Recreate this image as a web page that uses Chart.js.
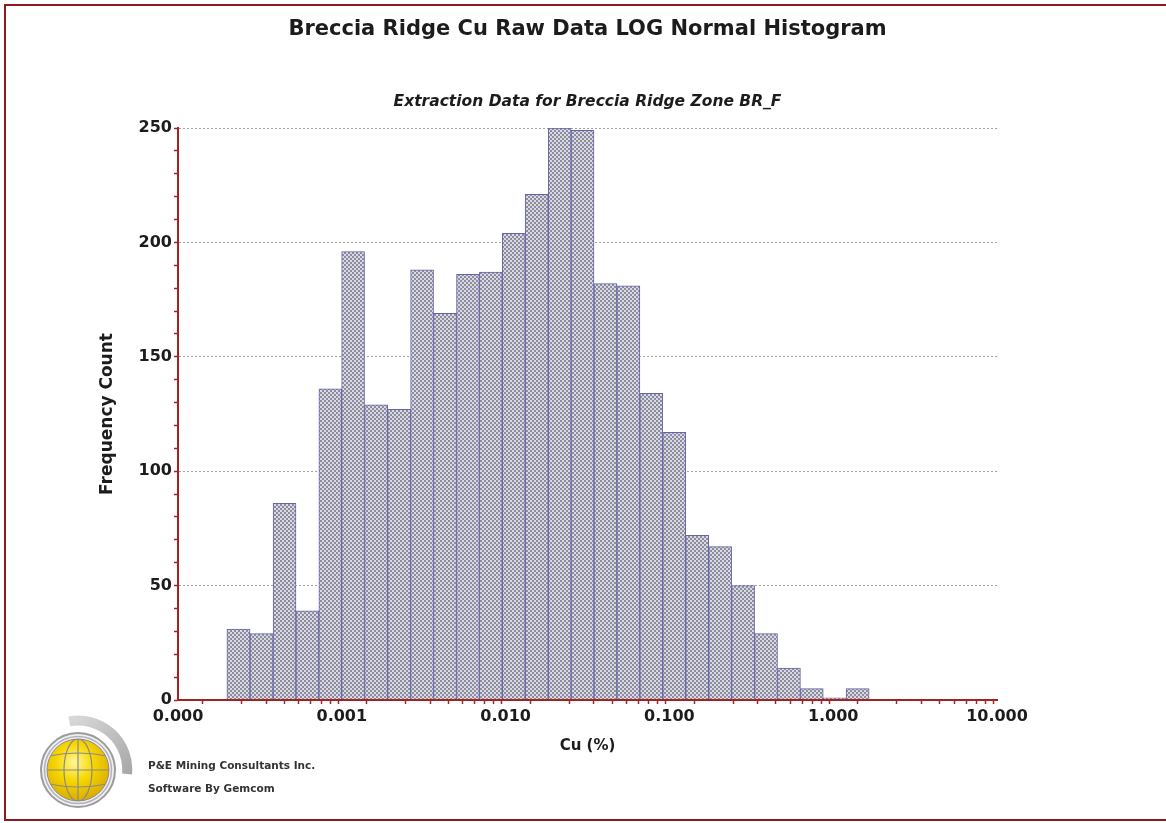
<!DOCTYPE html>
<html>
<head>
<meta charset="utf-8">
<title>Breccia Ridge Cu Raw Data LOG Normal Histogram</title>
<script src="https://cdn.jsdelivr.net/npm/chart.js@4.4.1/dist/chart.umd.min.js"></script>
<style>
    body { margin: 0; background: #fff; }
    #page { position: relative; width: 1166px; height: 823px; overflow: hidden; background: #fff; font-family: "DejaVu Sans", sans-serif; }
    #frame { position: absolute; left: 4px; top: 4px; width: 1180px; height: 817px; border: 2px solid #8e1b1b; border-right: none; box-sizing: border-box; pointer-events: none; }
    #chart { position: absolute; left: 0; top: 0; }
    #logo { position: absolute; left: 36px; top: 712px; }
    .credit { position: absolute; left: 148px; font-weight: bold; font-size: 10.5px; color: #333; white-space: nowrap; }
</style>
</head>
<body>
<div id="page">
    <canvas id="chart" width="1166" height="823"></canvas>
    <div id="frame"></div>

    <!-- company globe mark -->
    <svg id="logo" width="100" height="100" viewBox="0 0 100 100">
        <defs>
            <radialGradient id="globeFill" cx="0.45" cy="0.38" r="0.65">
                <stop offset="0" stop-color="#fff7a0"/>
                <stop offset="0.45" stop-color="#f7d800"/>
                <stop offset="1" stop-color="#d9a900"/>
            </radialGradient>
            <linearGradient id="arcFill" x1="0" y1="0" x2="1" y2="1">
                <stop offset="0" stop-color="#d8d8d8"/>
                <stop offset="1" stop-color="#a8a8a8"/>
            </linearGradient>
            <clipPath id="globeClip"><circle cx="42" cy="58" r="31"/></clipPath>
        </defs>
        <path d="M 33.3 9.3 A 49 49 0 0 1 91 62" fill="none" stroke="url(#arcFill)" stroke-width="10"/>
        <circle cx="42" cy="58" r="37" fill="#f0f0f0" stroke="#9c9c9c" stroke-width="2"/>
        <circle cx="42" cy="58" r="33.5" fill="none" stroke="#b0b0c4" stroke-width="1.5"/>
        <circle cx="42" cy="58" r="31" fill="url(#globeFill)" stroke="#8c8c8c" stroke-width="1"/>
        <g clip-path="url(#globeClip)" fill="none" stroke="#8a8a8a" stroke-width="1.2">
            <line x1="42" y1="25" x2="42" y2="91"/>
            <ellipse cx="42" cy="58" rx="14" ry="31"/>
            <line x1="10" y1="58" x2="74" y2="58"/>
            <path d="M 13 44 Q 42 38 71 44"/>
            <path d="M 13 72 Q 42 78 71 72"/>
        </g>
    </svg>
    <div class="credit" style="top: 759px;">P&amp;E Mining Consultants Inc.</div>
    <div class="credit" style="top: 782px;">Software By Gemcom</div>
</div>

<script>
const chartTitle = 'Breccia Ridge Cu Raw Data LOG Normal Histogram';
const chartSubtitle = 'Extraction Data for Breccia Ridge Zone BR_F';
const xAxisTitle = 'Cu (%)';
const yAxisTitle = 'Frequency Count';

// log-spaced Cu (%) bins: centre of each bin and its sample count
const binCenters = [
    0.000234, 0.000324, 0.000447, 0.000617, 0.000851,
    0.00117, 0.00162, 0.00224, 0.00309, 0.00427, 0.00589, 0.00813,
    0.0112, 0.0155, 0.0214, 0.0295, 0.0407, 0.0562, 0.0776,
    0.107, 0.148, 0.204, 0.282, 0.389, 0.537, 0.741,
    1.02, 1.41
];
const counts = [
    31, 29, 86, 39, 136,
    196, 129, 127, 188, 169, 186, 187,
    204, 221, 250, 249, 182, 181, 134,
    117, 72, 67, 50, 29, 14, 5,
    1, 5
];

// decade ticks on the Cu axis and their printed labels
const xDecades = [0.0001, 0.001, 0.01, 0.1, 1, 10];
const xTickLabels = ['0.000', '0.001', '0.010', '0.100', '1.000', '10.000'];
const yTickLabels = [0, 50, 100, 150, 200, 250];

const axisRed = '#a52222';
const inkColor = '#1c1c1c';

// fine checker fill used by the histogram bars
function checkerPattern() {
    const tile = document.createElement('canvas');
    tile.width = 4;
    tile.height = 4;
    const t = tile.getContext('2d');
    t.fillStyle = '#dadae2';
    t.fillRect(0, 0, 4, 4);
    t.fillStyle = '#8c8c9e';
    t.fillRect(0, 0, 2, 2);
    t.fillRect(2, 2, 2, 2);
    return document.getElementById('chart').getContext('2d').createPattern(tile, 'repeat');
}

const headerText = {
    id: 'headerText',
    afterDraw(chart) {
        const { ctx, chartArea } = chart;
        const cx = (chartArea.left + chartArea.right) / 2;
        ctx.save();
        ctx.fillStyle = inkColor;
        ctx.textAlign = 'center';
        ctx.textBaseline = 'middle';
        ctx.font = 'bold 21px "DejaVu Sans"';
        ctx.fillText(chartTitle, cx, 30);
        ctx.font = 'italic bold 15.5px "DejaVu Sans"';
        ctx.fillText(chartSubtitle, cx, 102);
        ctx.restore();
    }
};

const tickFont = { family: 'DejaVu Sans', size: 16, weight: 'bold' };

new Chart(document.getElementById('chart'), {
    type: 'bar',
    data: {
        datasets: [{
            label: 'Frequency',
            data: binCenters.map((x, i) => ({ x: x, y: counts[i] })),
            backgroundColor: checkerPattern(),
            borderColor: '#6464aa',
            borderWidth: 1,
            barThickness: 'flex',
            barPercentage: 1,
            categoryPercentage: 1
        }]
    },
    options: {
        responsive: false,
        animation: false,
        layout: { padding: { left: 0, top: 128, right: 169, bottom: 0 } },
        plugins: {
            legend: { display: false },
            tooltip: { enabled: false }
        },
        scales: {
            x: {
                type: 'logarithmic',
                min: xDecades[0],
                max: xDecades[xDecades.length - 1],
                afterFit: s => { s.height = 123; },
                afterBuildTicks: s => {
                    const ticks = [];
                    xDecades.forEach((d, i) => {
                        if (i === xDecades.length - 1) {
                            ticks.push({ value: d });
                        } else {
                            for (let k = 1; k <= 9; k++) ticks.push({ value: k * d });
                        }
                    });
                    s.ticks = ticks;
                },
                grid: {
                    drawOnChartArea: false,
                    drawTicks: true,
                    tickLength: 4,
                    tickColor: axisRed,
                    tickWidth: 1.5
                },
                border: { display: true, color: axisRed, width: 2, z: 1 },
                ticks: {
                    autoSkip: false,
                    maxRotation: 0,
                    padding: 3,
                    color: inkColor,
                    font: tickFont,
                    callback: v => {
                        const i = xDecades.indexOf(v);
                        return i >= 0 ? xTickLabels[i] : '';
                    }
                },
                title: {
                    display: true,
                    text: xAxisTitle,
                    color: inkColor,
                    font: { family: 'DejaVu Sans', size: 15, weight: 'bold' },
                    padding: { top: 0, bottom: 68 }
                }
            },
            y: {
                min: 0,
                max: 250,
                afterFit: s => { s.width = 178; },
                grid: {
                    color: c => (c.tick && c.tick.value > 0 && yTickLabels.includes(c.tick.value)) ? '#a2a2a2' : 'rgba(0,0,0,0)',
                    lineWidth: 1,
                    drawTicks: true,
                    tickLength: 4,
                    tickColor: axisRed,
                    tickWidth: 1.5
                },
                border: { display: true, color: axisRed, width: 2, dash: [2, 2], z: 1 },
                ticks: {
                    stepSize: 10,
                    autoSkip: false,
                    padding: 2,
                    color: inkColor,
                    font: tickFont,
                    callback: v => yTickLabels.includes(v) ? String(v) : ''
                },
                title: {
                    display: true,
                    text: yAxisTitle,
                    color: inkColor,
                    font: { family: 'DejaVu Sans', size: 17, weight: 'bold' },
                    padding: { top: 97, bottom: 0 }
                }
            }
        }
    },
    plugins: [headerText]
});
</script>
</body>
</html>
